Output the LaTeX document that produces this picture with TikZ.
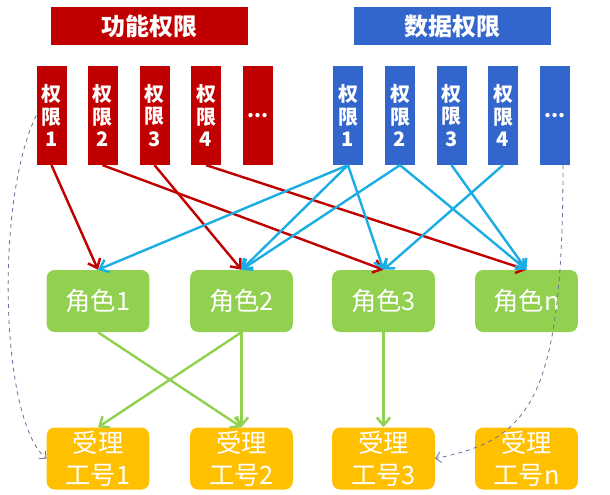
\documentclass[tikz,border=0pt]{standalone}
\usepackage{fontspec}
\usepackage{tikz}
\usetikzlibrary{arrows.meta}
\newfontfamily\cjk{Noto Sans CJK SC}
\definecolor{fred}{HTML}{C00000}
\definecolor{dblue}{HTML}{3366CC}
\definecolor{cyanline}{HTML}{1AADE4}
\definecolor{rgreen}{HTML}{92D050}
\definecolor{worange}{HTML}{FFC000}
\definecolor{dashgray}{HTML}{6E6E9C}

\begin{document}
\begin{tikzpicture}[x=0.75pt, y=-0.75pt,
    title/.style = {minimum width=148pt, minimum height=28.5pt, inner sep=0pt, text=white, font=\cjk\bfseries\fontsize{18}{20}\selectfont},
    perm/.style = {minimum width=22.5pt, minimum height=74pt, inner sep=0pt, text=white, align=center, font=\cjk\bfseries\fontsize{15}{17}\selectfont},
    role/.style = {fill=rgreen, rounded corners=6pt, minimum width=77pt, minimum height=46.5pt, inner sep=0pt, text=white, align=center, font=\cjk\fontsize{19}{24}\selectfont},
    staff/.style = {role, fill=worange},
    redarrow/.style = {draw=fred, line width=1.8pt, -{Straight Barb[length=6pt,width=10pt]}},
    bluearrow/.style = {draw=cyanline, line width=1.8pt, -{Straight Barb[length=6pt,width=10pt]}},
    greenarrow/.style = {draw=rgreen, line width=1.8pt, -{Straight Barb[length=6pt,width=10pt]}},
    link/.style = {draw=dashgray, line width=0.6pt, dashed, -{Straight Barb[length=4pt,width=8pt]}}]
\useasboundingbox (0,0) rectangle (610,494);

% permission groups
    \node[title, fill=fred] (ft) at (149.5,26) {功能权限};
    \node[title, fill=dblue] (dt) at (452.5,26) {数据权限};

    \node[perm, fill=fred] (f1) at (51.5,115.5) {权\\限\\1};
    \node[perm, fill=fred] (f2) at (102.5,115.5) {权\\限\\2};
    \node[perm, fill=fred] (f3) at (154.5,115.5) {权\\限\\3};
    \node[perm, fill=fred] (f4) at (206,115.5) {权\\限\\4};
    \node[perm, fill=fred] (f5) at (258,115.5) {...};

    \node[perm, fill=dblue] (d1) at (348,115.5) {权\\限\\1};
    \node[perm, fill=dblue] (d2) at (400,115.5) {权\\限\\2};
    \node[perm, fill=dblue] (d3) at (451.5,115.5) {权\\限\\3};
    \node[perm, fill=dblue] (d4) at (503,115.5) {权\\限\\4};
    \node[perm, fill=dblue] (d5) at (555,115.5) {...};

% roles and staff
    \node[role] (r1) at (98,301) {角色1};
    \node[role] (r2) at (241.5,301) {角色2};
    \node[role] (r3) at (383.5,301) {角色3};
    \node[role] (r4) at (526.5,301) {角色n};

    \node[staff] (w1) at (98,458.5) {受理\\工号1};
    \node[staff] (w2) at (241.5,458.5) {受理\\工号2};
    \node[staff] (w3) at (383.5,458.5) {受理\\工号3};
    \node[staff] (w4) at (526.5,458.5) {受理\\工号n};

\draw[redarrow] (f1.south) -- (r1.north);
\draw[redarrow] (f2.south) -- (r3.north);
\draw[redarrow] (f3.south) -- (r2.north);
\draw[redarrow] (f4.south) -- (r4.north);

\draw[bluearrow] (d1.south) -- (r1.north);
\draw[bluearrow] (d1.south) -- (r2.north);
\draw[bluearrow] (d1.south) -- (r3.north);
\draw[bluearrow] (d2.south) -- (r2.north);
\draw[bluearrow] (d2.south) -- (r4.north);
\draw[bluearrow] (d3.south) -- (r4.north);
\draw[bluearrow] (d4.south) -- (r3.north);

\draw[greenarrow] (r1.south) -- (w2.north);
\draw[greenarrow] (r2.south) -- (w1.north);
\draw[greenarrow] (r2.south) -- (w2.north);
\draw[greenarrow] (r3.south) -- (w3.north);

\draw[link] (f1.west) .. controls (-5,200) and (0,420) .. (w1.west);
\draw[link] ([xshift=6pt]d5.south) .. controls (563,400) and (530,440) .. (w3.east);
\end{tikzpicture}
\end{document}
